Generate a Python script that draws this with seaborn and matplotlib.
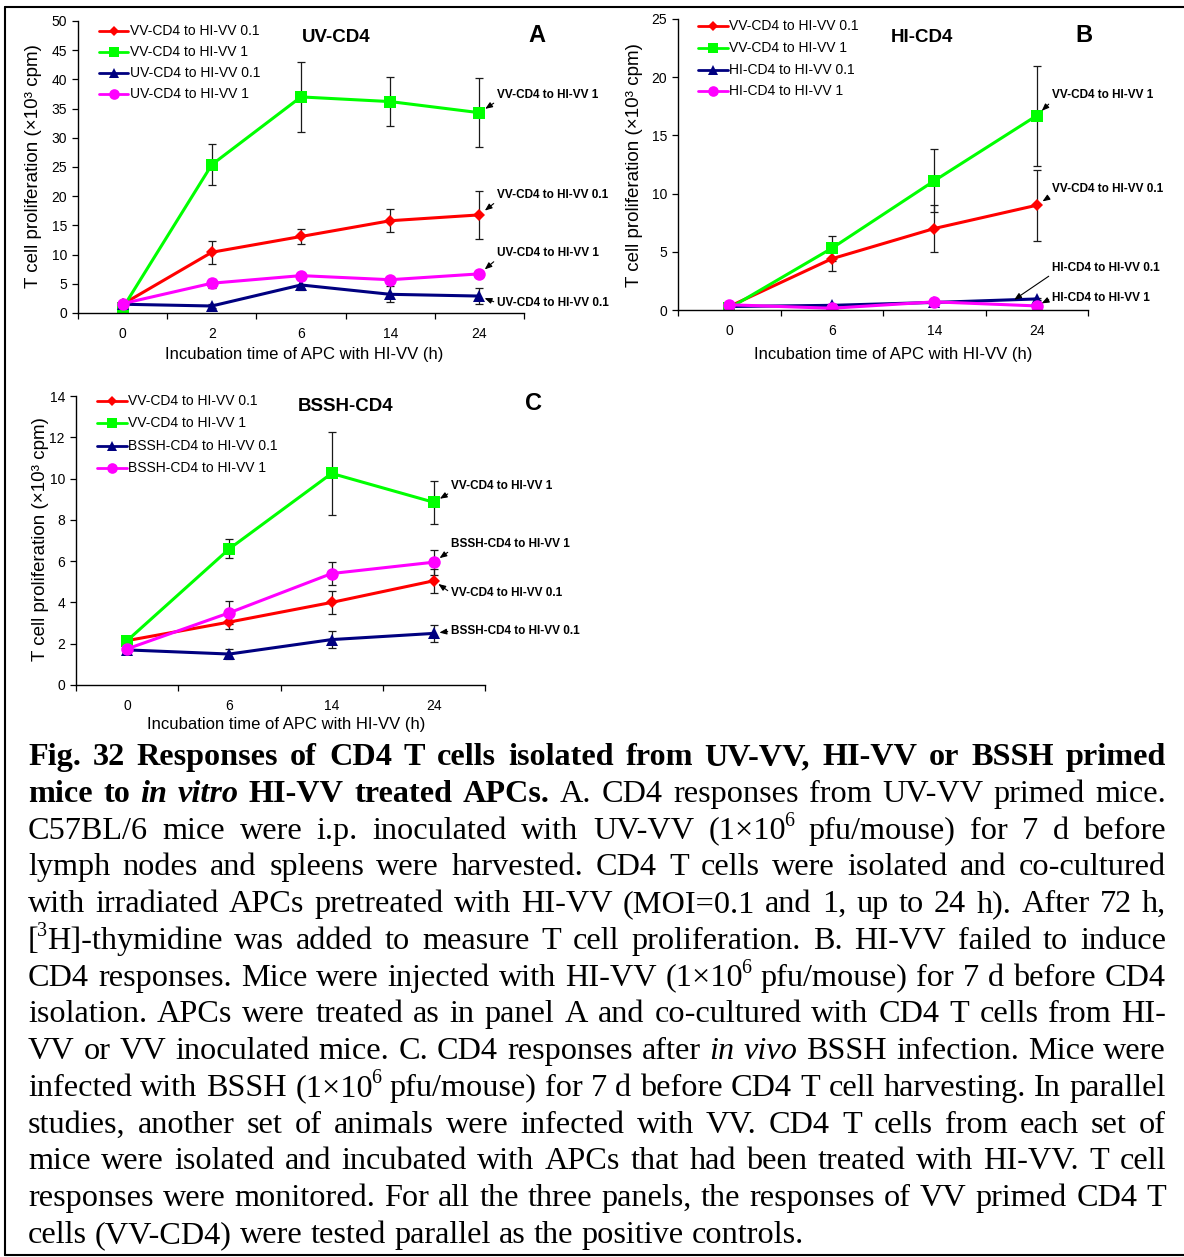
import matplotlib
matplotlib.use('Agg')
import matplotlib.pyplot as plt
from matplotlib.lines import Line2D
import numpy as np
import pandas as pd
import seaborn as sns

# ---------------- data ----------------
times_A = ['0', '2', '6', '14', '24']
names_A = ['VV-CD4 to HI-VV 0.1', 'VV-CD4 to HI-VV 1', 'UV-CD4 to HI-VV 0.1', 'UV-CD4 to HI-VV 1']
A_vv_01 = [1.5, 10.4, 13.1, 15.8, 16.8]
A_vv_01_err = [0.0, 2.0, 1.35, 2.0, 4.1]
A_vv_1 = [0.8, 25.4, 37.0, 36.2, 34.3]
A_vv_1_err = [0.0, 3.5, 6.0, 4.2, 5.9]
A_uv_01 = [1.5, 1.2, 4.8, 3.2, 2.9]
A_uv_01_err = [0.0, 0.3, 0.85, 1.4, 1.3]
A_uv_1 = [1.6, 5.1, 6.4, 5.7, 6.7]
A_uv_1_err = [0.0, 0.8, 0.5, 0.4, 0.5]

times_B = ['0', '6', '14', '24']
names_B = ['VV-CD4 to HI-VV 0.1', 'VV-CD4 to HI-VV 1', 'HI-CD4 to HI-VV 0.1', 'HI-CD4 to HI-VV 1']
B_vv_01 = [0.3, 4.4, 7.0, 9.0]
B_vv_01_err = [0.0, 1.05, 2.05, 3.05]
B_vv_1 = [0.15, 5.3, 11.1, 16.7]
B_vv_1_err = [0.0, 1.05, 2.7, 4.3]
B_hi_01 = [0.3, 0.4, 0.65, 0.95]
B_hi_01_err = [0.0, 0.1, 0.1, 0.1]
B_hi_1 = [0.45, 0.15, 0.7, 0.35]
B_hi_1_err = [0.0, 0.05, 0.1, 0.05]

times_C = ['0', '6', '14', '24']
names_C = ['VV-CD4 to HI-VV 0.1', 'VV-CD4 to HI-VV 1', 'BSSH-CD4 to HI-VV 0.1', 'BSSH-CD4 to HI-VV 1']
C_vv_01 = [2.15, 3.05, 4.0, 5.05]
C_vv_01_err = [0.0, 0.35, 0.56, 0.58]
C_vv_1 = [2.15, 6.6, 10.25, 8.85]
C_vv_1_err = [0.0, 0.45, 2.0, 1.05]
C_bssh_01 = [1.7, 1.5, 2.2, 2.5]
C_bssh_01_err = [0.15, 0.25, 0.4, 0.4]
C_bssh_1 = [1.75, 3.5, 5.4, 5.95]
C_bssh_1_err = [0.0, 0.55, 0.55, 0.6]

panel_titles = ['UV-CD4', 'HI-CD4', 'BSSH-CD4']
panel_letters = ['A', 'B', 'C']
y_label = 'T cell proliferation (×10³ cpm)'
x_label = 'Incubation time of APC with HI-VV (h)'

# ---------------- style ----------------
sns.set_style('ticks')
plt.rcParams['font.family'] = ['Liberation Sans', 'DejaVu Sans']
for k in ['text.color', 'xtick.color', 'ytick.color', 'axes.labelcolor', 'axes.edgecolor']:
    plt.rcParams[k] = 'black'

COLORS = ['#FF0000', '#00FF00', '#000080', '#FF00FF']
MARKERS = ['D', 's', '^', 'o']
MSIZES = [6.5, 8.5, 8.5, 9.0]

W, H = 1184, 1257
fig = plt.figure(figsize=(W / 100, H / 100), dpi=100)
fig.patch.set_facecolor('white')
renderer = fig.canvas.get_renderer()


def fx(x):
    return x / W


def fy(y):
    return 1 - y / H


def ax_px(l, t, r, b):
    return fig.add_axes([l / W, 1 - b / H, (r - l) / W, (b - t) / H])


def draw_panel(ax, times, names, vals, errs, ymax, ystep):
    pos = np.arange(len(times))
    df = pd.concat([pd.DataFrame({'pos': pos, 'val': v, 'series': nm})
                    for nm, v in zip(names, vals)], ignore_index=True)
    for k in range(len(names)):
        e = np.asarray(errs[k], float)
        v = np.asarray(vals[k], float)
        m = e > 0
        ax.errorbar(pos[m], v[m], yerr=e[m], fmt='none', ecolor='#1a1a1a',
                    elinewidth=0.9, capsize=3, capthick=0.9, zorder=1)
    for k, nm in enumerate(names):
        sub = df[df['series'] == nm]
        sns.lineplot(data=sub, x='pos', y='val', color=COLORS[k], marker=MARKERS[k],
                     markersize=MSIZES[k], markeredgewidth=0, linewidth=2.2,
                     ax=ax, legend=False, errorbar=None, zorder=2 + 0.1 * k)
    ax.set_xlabel('')
    ax.set_ylabel('')
    n = len(times)
    ax.set_xlim(-0.5, n - 0.5)
    ax.set_ylim(0, ymax)
    ax.set_xticks(pos)
    ax.set_xticklabels(times)
    ax.set_xticks(np.arange(n + 1) - 0.5, minor=True)
    ax.set_yticks(np.arange(0, ymax + 0.001, ystep))
    ax.set_yticklabels([f'{int(v)}' for v in np.arange(0, ymax + 0.001, ystep)])
    ax.tick_params(axis='x', which='major', length=0, pad=10, labelsize=10)
    ax.tick_params(axis='x', which='minor', length=4, width=0.9, direction='out')
    ax.tick_params(axis='y', which='major', length=4, width=0.9, direction='out', pad=4, labelsize=10)
    sns.despine(ax=ax)
    for s in ['left', 'bottom']:
        ax.spines[s].set_linewidth(1.0)
        ax.spines[s].set_color('black')
    ax.set_facecolor('none')
    return pos


def legend_rows(names, x0, x1, ys, tx):
    for k, (nm, y) in enumerate(zip(names, ys)):
        xm = (x0 + x1) / 2
        fig.add_artist(Line2D([fx(x0), fx(xm), fx(x1)], [fy(y)] * 3, color=COLORS[k],
                              lw=2.0, marker=MARKERS[k], markevery=[1],
                              markersize=MSIZES[k] * 0.85, markeredgewidth=0))
        fig.text(fx(tx), fy(y), nm, ha='left', va='center', fontsize=10)


def annotate(ax, label, xy, tx, ty, relpos, shrinkB):
    ax.annotate(label, xy=xy, xycoords='data', xytext=(tx, H - ty),
                textcoords='figure pixels', ha='left', va='center',
                fontsize=8.5, fontweight='bold',
                arrowprops=dict(arrowstyle='-|>,head_length=0.5,head_width=0.2',
                                color='black', lw=0.8, shrinkA=0, shrinkB=shrinkB,
                                relpos=relpos))


# ---------------- Panel A ----------------
axA = ax_px(78, 21, 524, 313)
valsA = [A_vv_01, A_vv_1, A_uv_01, A_uv_1]
errsA = [A_vv_01_err, A_vv_1_err, A_uv_01_err, A_uv_1_err]
posA = draw_panel(axA, times_A, names_A, valsA, errsA, 50, 5)
annotate(axA, 'VV-CD4 to HI-VV 1', (posA[4], A_vv_1[4]), 497, 95, (0, 0), 5)
annotate(axA, 'VV-CD4 to HI-VV 0.1', (posA[4], A_vv_01[4]), 497, 195, (0, 0), 5)
annotate(axA, 'UV-CD4 to HI-VV 1', (posA[4], A_uv_1[4]), 497, 253, (0, 0), 5)
annotate(axA, 'UV-CD4 to HI-VV 0.1', (posA[4], A_uv_01[4]), 497, 303, (0, 0.5), 4)
legend_rows(names_A, 99, 128, [31, 52, 73, 94], 130)
fig.text(fx(336), fy(37), panel_titles[0], ha='center', va='center', fontsize=13.5, fontweight='bold')
fig.text(fx(537), fy(35), panel_letters[0], ha='center', va='center', fontsize=17, fontweight='bold')
fig.text(fx(34), fy(166), y_label, rotation=90, ha='center', va='center', fontsize=13.5)
fig.text(fx(304), fy(354), x_label, ha='center', va='center', fontsize=12)

# ---------------- Panel B ----------------
axB = ax_px(678, 19, 1088, 310)
valsB = [B_vv_01, B_vv_1, B_hi_01, B_hi_1]
errsB = [B_vv_01_err, B_vv_1_err, B_hi_01_err, B_hi_1_err]
posB = draw_panel(axB, times_B, names_B, valsB, errsB, 25, 5)
annotate(axB, 'VV-CD4 to HI-VV 1', (posB[3], B_vv_1[3]), 1052, 95, (0, 0), 5)
annotate(axB, 'VV-CD4 to HI-VV 0.1', (posB[3], B_vv_01[3]), 1052, 189, (0, 0), 5)
frac = 0.78
tgt = (posB[2] + frac * (posB[3] - posB[2]), B_hi_01[2] + frac * (B_hi_01[3] - B_hi_01[2]))
annotate(axB, 'HI-CD4 to HI-VV 0.1', tgt, 1052, 268, (0, 0), 0)
annotate(axB, 'HI-CD4 to HI-VV 1', (posB[3], B_hi_1[3]), 1052, 298, (0, 0.5), 4)
legend_rows(names_B, 698, 728, [26, 48, 70, 91], 729)
fig.text(fx(922), fy(37), panel_titles[1], ha='center', va='center', fontsize=13.5, fontweight='bold')
fig.text(fx(1084), fy(35), panel_letters[1], ha='center', va='center', fontsize=17, fontweight='bold')
fig.text(fx(634), fy(165), y_label, rotation=90, ha='center', va='center', fontsize=13.5)
fig.text(fx(893), fy(354), x_label, ha='center', va='center', fontsize=12)

# ---------------- Panel C ----------------
axC = ax_px(76, 396, 485, 685)
valsC = [C_vv_01, C_vv_1, C_bssh_01, C_bssh_1]
errsC = [C_vv_01_err, C_vv_1_err, C_bssh_01_err, C_bssh_1_err]
posC = draw_panel(axC, times_C, names_C, valsC, errsC, 14, 2)
annotate(axC, 'VV-CD4 to HI-VV 1', (posC[3], C_vv_1[3]), 451, 486, (0, 0), 5)
annotate(axC, 'BSSH-CD4 to HI-VV 1', (posC[3], C_bssh_1[3]), 451, 544, (0, 0), 5)
annotate(axC, 'VV-CD4 to HI-VV 0.1', (posC[3], C_vv_01[3]), 451, 593, (0, 0.5), 4)
annotate(axC, 'BSSH-CD4 to HI-VV 0.1', (posC[3], C_bssh_01[3]), 451, 631, (0, 0.5), 4)
legend_rows(names_C, 97, 127, [401, 423, 446, 468], 128)
fig.text(fx(346), fy(407), panel_titles[2], ha='center', va='center', fontsize=13.5, fontweight='bold')
fig.text(fx(534), fy(403), panel_letters[2], ha='center', va='center', fontsize=17, fontweight='bold')
fig.text(fx(41), fy(539), y_label, rotation=90, ha='center', va='center', fontsize=13.5)
fig.text(fx(286), fy(725), x_label, ha='center', va='center', fontsize=12)

# ---------------- caption ----------------
caption_lines = [
    [("Fig. 32 Responses of CD4 T cells isolated from UV-VV, HI-VV or BSSH primed", 'b')],
    [("mice to ", 'b'), ("in vitro", 'bi'), (" HI-VV treated APCs.", 'b'),
     (" A. CD4 responses from UV-VV primed mice.", 'r')],
    [("C57BL/6 mice were i.p. inoculated with UV-VV (1×10", 'r'), ("6", 'sup'),
     (" pfu/mouse) for 7 d before", 'r')],
    [("lymph nodes and spleens were harvested. CD4 T cells were isolated and co-cultured", 'r')],
    [("with irradiated APCs pretreated with HI-VV (MOI=0.1 and 1, up to 24 h). After 72 h,", 'r')],
    [("[", 'r'), ("3", 'sup'), ("H]-thymidine was added to measure T cell proliferation. B. HI-VV failed to induce", 'r')],
    [("CD4 responses. Mice were injected with HI-VV (1×10", 'r'), ("6", 'sup'),
     (" pfu/mouse) for 7 d before CD4", 'r')],
    [("isolation. APCs were treated as in panel A and co-cultured with CD4 T cells from HI-", 'r')],
    [("VV or VV inoculated mice. C. CD4 responses after ", 'r'), ("in vivo", 'i'),
     (" BSSH infection. Mice were", 'r')],
    [("infected with BSSH (1×10", 'r'), ("6", 'sup'),
     (" pfu/mouse) for 7 d before CD4 T cell harvesting. In parallel", 'r')],
    [("studies, another set of animals were infected with VV. CD4 T cells from each set of", 'r')],
    [("mice were isolated and incubated with APCs that had been treated with HI-VV. T cell", 'r')],
    [("responses were monitored. For all the three panels, the responses of VV primed CD4 T", 'r')],
    [("cells (VV-CD4) were tested parallel as the positive controls.", 'r')],
]

CAP_FS = 23.2
CAP_FAMILY = ['Liberation Serif', 'DejaVu Serif']
X_L, X_R = 28, 1166
BASE0, LSTEP = 765, 36.77


def style_kw(st):
    kw = dict(fontsize=CAP_FS, family=CAP_FAMILY, color='black', ha='left', va='baseline')
    if st == 'b':
        kw['fontweight'] = 'bold'
    elif st == 'bi':
        kw['fontweight'] = 'bold'
        kw['fontstyle'] = 'italic'
    elif st == 'i':
        kw['fontstyle'] = 'italic'
    elif st == 'sup':
        kw['fontsize'] = CAP_FS * 0.62
    return kw


def measure(s, st):
    t = fig.text(0, 0, s, **style_kw(st))
    w = t.get_window_extent(renderer).width
    t.remove()
    return w


SPACE_W = measure('n n', 'r') - measure('nn', 'r')


def to_words(segs):
    words = [[]]
    for text, st in segs:
        parts = text.split(' ')
        for k, p in enumerate(parts):
            if k > 0:
                words.append([])
            if p:
                words[-1].append((p, st))
    return [w for w in words if w]


def run_gap(st_a, st_b):
    if st_b == 'sup':
        return -2
    return 0


def render_line(segs, ybase, justify):
    words = to_words(segs)
    placed, widths = [], []
    for w in words:
        runs, tot = [], 0
        for j, (p, st) in enumerate(w):
            t = fig.text(0, 0, p, **style_kw(st))
            wd = t.get_window_extent(renderer).width
            g = run_gap(st, w[j + 1][1]) if j < len(w) - 1 else 0
            runs.append((t, wd, st, g))
            tot += wd + g
        placed.append(runs)
        widths.append(tot)
    n = len(words)
    gap = (X_R - X_L - sum(widths)) / (n - 1) if (justify and n > 1) else SPACE_W
    x = X_L
    for runs, wd in zip(placed, widths):
        xx = x
        for t, w_, st, g in runs:
            yy = ybase - (CAP_FS * 0.40 * 100 / 72 if st == 'sup' else 0)
            t.set_position((fx(xx), fy(yy)))
            xx += w_ + g
        x += wd + gap


for i, segs in enumerate(caption_lines):
    render_line(segs, BASE0 + LSTEP * i, justify=(i < len(caption_lines) - 1))

# ---------------- border ----------------
bw = 1.5
fig.add_artist(Line2D([fx(5), fx(1184)], [fy(7), fy(7)], color='black', lw=bw))
fig.add_artist(Line2D([fx(5), fx(5)], [fy(7), fy(1255)], color='black', lw=bw))
fig.add_artist(Line2D([fx(5), fx(1184)], [fy(1255), fy(1255)], color='black', lw=bw))

fig.savefig('out.png', dpi=100, facecolor='white')
